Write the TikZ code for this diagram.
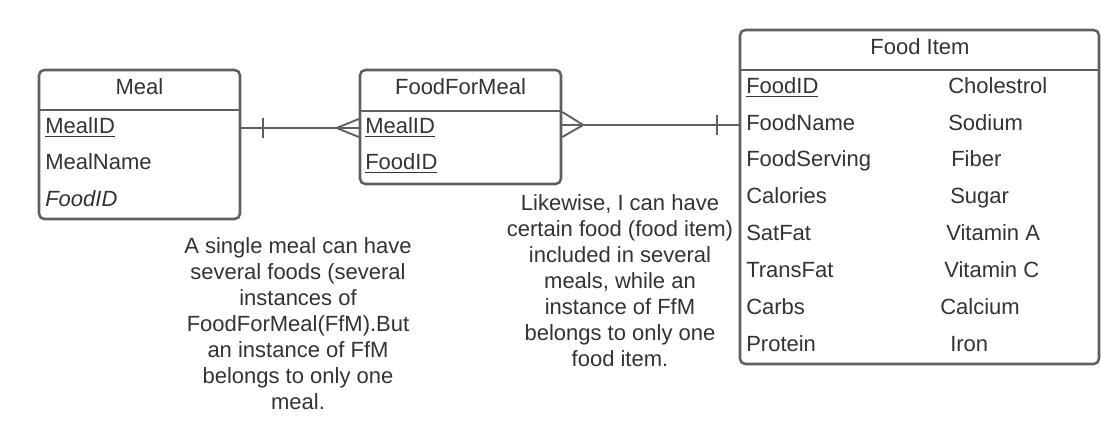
\documentclass[tikz,border=0pt]{standalone}
\usepackage{fontspec}
\setmainfont{Liberation Sans}
\usepackage{tikz}
\usetikzlibrary{positioning, fit}

\definecolor{boxgray}{HTML}{5F5F5F}
\definecolor{txtgray}{HTML}{333333}

\begin{document}
\begin{tikzpicture}[x=0.75pt, y=-0.75pt, text=txtgray,
		font=\fontsize{16.5}{19.5}\selectfont,
		entity/.style={draw=boxgray, line width=1.9pt, rounded corners=4pt, inner sep=0pt},
		headline/.style={draw=boxgray, line width=1.9pt},
		attr/.style={anchor=base west, inner sep=0pt},
		title/.style={anchor=base, inner sep=0pt},
		link/.style={draw=boxgray, line width=1.4pt},
		note/.style={anchor=base, align=center, inner sep=0pt}]
		%		\draw[step=50,black!20,thin] (0,0) grid (1101,448);
		\useasboundingbox (0,0) rectangle (1101,448);
		
		% entities
		\node[entity, fit={(39,70) (240,219)}] (meal) {};
		\node[entity, fit={(360,70) (561,184)}] (ffm) {};
		\node[entity, fit={(740,30) (1099,364)}] (fitem) {};
		\draw[headline] (meal.west |- 0,110) -- (meal.east |- 0,110);
		\draw[headline] (ffm.west |- 0,111) -- (ffm.east |- 0,111);
		\draw[headline] (fitem.west |- 0,70) -- (fitem.east |- 0,70);
		
		% Meal
		\node[title] (mealT) at (139.5,95) {Meal};
		\node[attr] (mealA) at (45,134) {\underline{MealID}};
		\node[attr] (mealB) at (45,170) {MealName};
		\node[attr] (mealC) at (45,207) {\textit{FoodID}};
		
		% FoodForMeal
		\node[title] (ffmT) at (460.5,95) {FoodForMeal};
		\node[attr] (ffmA) at (365,134) {\underline{MealID}};
		\node[attr] (ffmB) at (365,170) {\underline{FoodID}};
		
		% Food Item
		\node[title] (fitemT) at (920,55) {Food Item};
		\node[attr] (fA) at (746,94) {\underline{FoodID}};
		\node[attr] (fB) at (746,131) {FoodName};
		\node[attr] (fC) at (746,167) {FoodServing};
		\node[attr] (fD) at (746,204) {Calories};
		\node[attr] (fE) at (746,241) {SatFat};
		\node[attr] (fF) at (746,278) {TransFat};
		\node[attr] (fG) at (746,315) {Carbs};
		\node[attr] (fH) at (746,352) {Protein};
		\node[attr] (gA) at (948,94) {Cholestrol};
		\node[attr] (gB) at (948,131) {Sodium};
		\node[attr] (gC) at (951,167) {Fiber};
		\node[attr] (gD) at (950,204) {Sugar};
		\node[attr] (gE) at (946,241) {Vitamin A};
		\node[attr] (gF) at (944,278) {Vitamin C};
		\node[attr] (gG) at (940,315) {Calcium};
		\node[attr] (gH) at (950,352) {Iron};
		
		% relationships
		\draw[link] (meal.east |- 0,128) -- (ffm.west |- 0,128);
		\draw[link] (meal.east |- 0,128) ++(22,-10) -- ++(0,20);
		\draw[link] (ffm.west |- 0,119) -- ++(-22,9) -- (ffm.west |- 0,137);
		\draw[link] (ffm.east |- 0,125) -- (fitem.west |- 0,125);
		\draw[link] (ffm.east |- 0,112) -- ++(21,13) -- (ffm.east |- 0,137);
		\draw[link] (fitem.west |- 0,125) ++(-22,-10) -- ++(0,20);
		
		% notes (base = last line)
		\node[note] (N1) at (298,410) {A single meal can have\\several foods (several\\instances of\\FoodForMeal(FfM).But\\an instance of FfM\\belongs to only one\\meal.};
		\node[note] (N2) at (620,367) {Likewise, I can have\\certain food (food item)\\included in several\\meals, while an\\instance of FfM\\belongs to only one\\food item.};
		\end{tikzpicture}
\end{document}
